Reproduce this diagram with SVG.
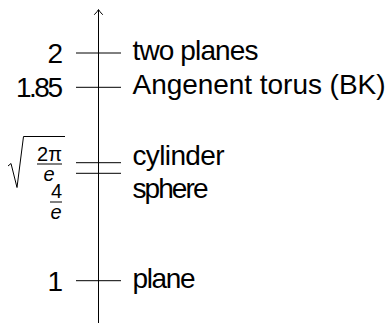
<svg xmlns="http://www.w3.org/2000/svg" width="389" height="323" viewBox="0 0 389 323">
<style>
.t{font-family:"Liberation Sans",Arial,sans-serif;font-size:28px;fill:#000}
.s{font-family:"Liberation Sans",Arial,sans-serif;font-size:20px;fill:#000}
.i{font-style:italic}
.ln{stroke:#000;stroke-width:1;fill:none}
</style>
<g id="axis">
<line class="ln" x1="98.5" y1="323" x2="98.5" y2="10"/>
<path class="ln" d="M94.5,14.5 Q97.5,11.5 98.5,9.5 Q99.5,11.5 102.5,14.5" stroke-linecap="round"/>
</g>
<g id="connectors">
<line class="ln" x1="76" y1="53" x2="121" y2="53"/>
<line class="ln" x1="76" y1="87.3" x2="121" y2="87.3"/>
<line class="ln" x1="76" y1="162.7" x2="121" y2="162.7"/>
<line class="ln" x1="76" y1="173.3" x2="121" y2="173.3"/>
<line class="ln" x1="76" y1="280.7" x2="121" y2="280.7"/>
</g>
<g id="n-two">
<text class="t" x="63" y="63" text-anchor="end">2</text>
<text class="t" x="132.5" y="60.2" textLength="126">two planes</text>
</g>
<g id="n-torus">
<text class="t" x="63" y="97.3" text-anchor="end" textLength="47">1.85</text>
<text class="t" x="132.5" y="94" textLength="253">Angenent torus (BK)</text>
</g>
<g id="n-cylinder">
<path class="ln" d="M8,166 L11,163.5 L17,187.5 L23.5,136.5 L65,136.5" stroke-width="1.2"/>
<text class="s" x="49.5" y="161" text-anchor="middle">2π</text>
<line class="ln" x1="37" y1="164" x2="62" y2="164"/>
<text class="s i" x="49" y="181" text-anchor="middle">e</text>
<text class="t" x="132.5" y="165" textLength="92">cylinder</text>
</g>
<g id="n-sphere">
<text class="s" x="56.5" y="198" text-anchor="middle">4</text>
<line class="ln" x1="50" y1="202" x2="62" y2="202"/>
<text class="s i" x="56" y="219" text-anchor="middle">e</text>
<text class="t" x="132.5" y="198" textLength="76">sphere</text>
</g>
<g id="n-plane">
<text class="t" x="63" y="290.7" text-anchor="end">1</text>
<text class="t" x="132.5" y="287.5" textLength="63">plane</text>
</g>
</svg>
